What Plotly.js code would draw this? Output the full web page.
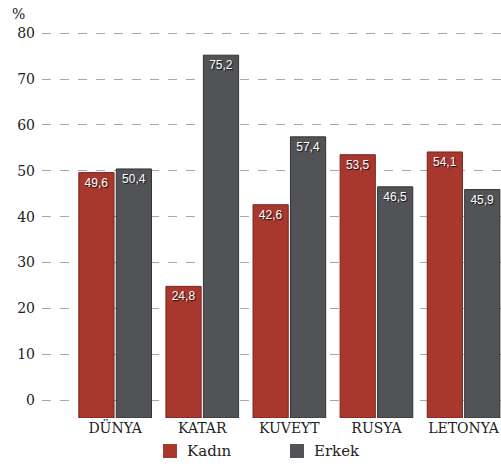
<!DOCTYPE html>
<html><head><meta charset="utf-8">
<script src="https://cdn.plot.ly/plotly-3.0.1.min.js"></script>
<style>html,body{margin:0;padding:0;background:#fff;}#chart{width:501px;height:467px;}</style>
</head><body><div id="chart"></div>
<script>
const categories = ["DÜNYA", "KATAR", "KUVEYT", "RUSYA", "LETONYA"];
const kadin = [49.6, 24.8, 42.6, 53.5, 54.1];
const erkek = [50.4, 75.2, 57.4, 46.5, 45.9];
const yTicks = [0, 10, 20, 30, 40, 50, 60, 70, 80];
const seriesNames = ["Kadın", "Erkek"];
const seriesColors = ["#a8372e", "#525356"];

const BASE = -3.9;
const fmt = v => v.toFixed(1).replace('.', ',');

function barTrace(name, vals, color, lineColor) {
  return {
    type: 'bar', name: name, x: categories,
    y: vals.map(v => v - BASE), base: BASE,
    marker: {color: color, line: {color: lineColor, width: 1}},
    text: vals.map(fmt), textposition: 'inside', insidetextanchor: 'end',
    textangle: 0,
    textfont: {family: 'Liberation Sans, Arial, sans-serif', size: 12, color: '#ffffff',
               shadow: '1px 1px 1px #111'},
    hoverinfo: 'skip', showlegend: false
  };
}

const data = [
  barTrace(seriesNames[0], kadin, seriesColors[0], '#7a231d'),
  barTrace(seriesNames[1], erkek, seriesColors[1], '#333436')
];

const H = 467, W = 501, mt = 24, mb = 49, ml = 42, mr = 0;
const ph = H - mt - mb, pw = W - ml - mr;
const px2x = px => (px - ml) / pw;
const py2y = py => 1 - (py - mt) / ph;

const legendItems = [{sx: 163, tx: 185}, {sx: 290, tx: 312}];
const shapes = [], annotations = [];
legendItems.forEach((it, i) => {
  shapes.push({type: 'rect', xref: 'paper', yref: 'paper',
    x0: px2x(it.sx), x1: px2x(it.sx + 14), y0: py2y(458), y1: py2y(444),
    fillcolor: seriesColors[i], line: {width: 0}});
  annotations.push({text: seriesNames[i], xref: 'paper', yref: 'paper',
    x: px2x(it.tx), y: py2y(451), xanchor: 'left', yanchor: 'middle', showarrow: false,
    font: {family: 'DejaVu Serif, serif', size: 15, color: '#222'}});
});
annotations.push({text: '%', xref: 'paper', yref: 'paper', x: px2x(10), y: py2y(4),
  xanchor: 'left', yanchor: 'top', showarrow: false,
  font: {family: 'DejaVu Serif, serif', size: 14, color: '#222'}});

const layout = {
  width: W, height: H,
  margin: {l: ml, r: mr, t: mt, b: mb},
  paper_bgcolor: '#ffffff', plot_bgcolor: '#ffffff',
  barmode: 'group', bargap: 0.14, bargroupgap: 0.06,
  showlegend: false,
  font: {family: 'DejaVu Serif, serif', size: 14, color: '#222'},
  xaxis: {range: [-0.84, 4.43], showgrid: false, zeroline: false, showline: false,
          automargin: false, ticks: '', ticklabelstandoff: 0,
          tickfont: {family: 'DejaVu Serif, serif', size: 14, color: '#222'}},
  yaxis: {range: [BASE, 82], tickvals: yTicks, ticktext: yTicks.map(String),
          showgrid: true, gridcolor: '#a8a8a8', griddash: 'dash', gridwidth: 1,
          zeroline: false, showline: false, ticks: '', ticklabelstandoff: 6,
          automargin: false,
          tickfont: {family: 'DejaVu Serif, serif', size: 14, color: '#222'}},
  shapes: shapes,
  annotations: annotations
};

Plotly.newPlot('chart', data, layout, {displayModeBar: false, staticPlot: true});
</script></body></html>
